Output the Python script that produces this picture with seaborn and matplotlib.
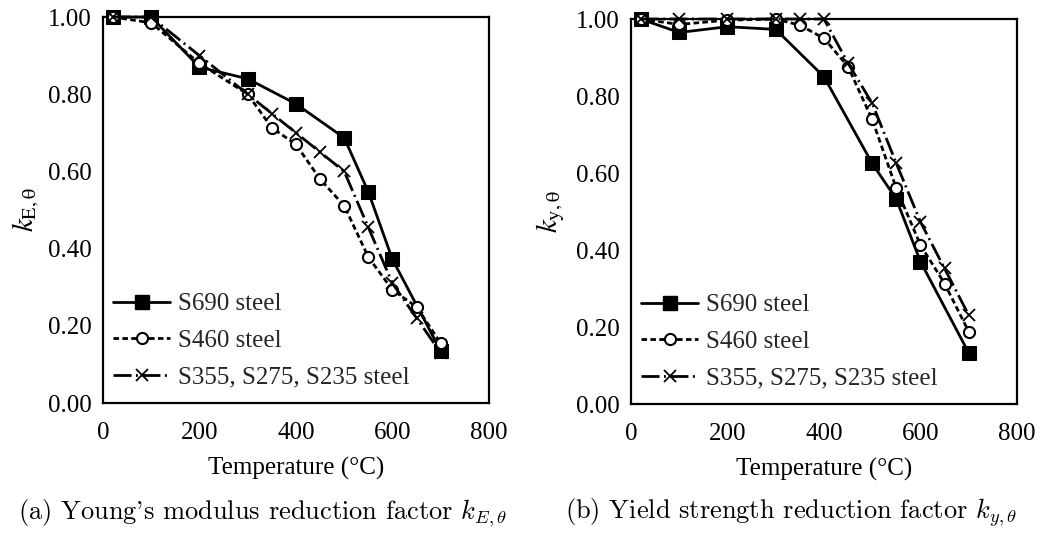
import matplotlib
matplotlib.use("Agg")
import matplotlib.pyplot as plt
import seaborn as sns
import pandas as pd
from matplotlib.lines import Line2D

# ---- data ----
temp_690 = [20, 100, 200, 300, 400, 500, 550, 600, 700]
kE_690 = [1.0, 1.0, 0.87, 0.84, 0.775, 0.687, 0.547, 0.372, 0.135]
ky_690 = [1.0, 0.965, 0.980, 0.973, 0.850, 0.625, 0.532, 0.370, 0.133]

temp_460 = [20, 100, 200, 300, 350, 400, 450, 500, 550, 600, 650, 700]
kE_460 = [1.0, 0.985, 0.880, 0.800, 0.713, 0.670, 0.580, 0.511, 0.378, 0.293, 0.249, 0.155]
ky_460 = [1.0, 0.986, 0.997, 1.0, 0.984, 0.950, 0.876, 0.739, 0.560, 0.413, 0.313, 0.188]

temp_355 = [20, 100, 200, 300, 350, 400, 450, 500, 550, 600, 650, 700]
kE_355 = [1.0, 1.0, 0.90, 0.80, 0.75, 0.70, 0.65, 0.60, 0.455, 0.31, 0.22, 0.13]
ky_355 = [1.0, 1.0, 1.0, 1.0, 1.0, 1.0, 0.885, 0.781, 0.625, 0.473, 0.352, 0.231]

labels = ["S690 steel", "S460 steel", "S355, S275, S235 steel"]
x_ticks = [0, 200, 400, 600, 800]
y_ticks = [0.0, 0.2, 0.4, 0.6, 0.8, 1.0]
captions = ["(a) Young's modulus reduction factor $k_{E,\\theta}$",
            "(b) Yield strength reduction factor $k_{y,\\theta}$"]
ylabels = ["$k_{\\mathrm{E,\\theta}}$", "$k_{\\mathrm{y,\\theta}}$"]
xlabel = "Temperature (\u00b0C)"

sns.set_theme(style="white")
plt.rcParams["font.family"] = ["Liberation Serif", "DejaVu Serif"]
plt.rcParams["mathtext.fontset"] = "stix"

FS = 18
fig = plt.figure(figsize=(10.41, 5.34), dpi=100)
ax1 = fig.add_axes([0.0989, 0.2453, 0.3708, 0.7228])
ax2 = fig.add_axes([0.6061, 0.2434, 0.3708, 0.7210])

LW = 2.0
styles = [
    dict(marker="s", markersize=10, markerfacecolor="black", markeredgecolor="black",
         linestyle="-", linewidth=LW),
    dict(marker="o", markersize=8, markerfacecolor="white", markeredgecolor="black",
         markeredgewidth=1.5, linestyle=(0, (2.0, 1.2)), linewidth=LW),
    dict(marker="x", markersize=8, markeredgecolor="black", markeredgewidth=1.3,
         linestyle=(0, (6.5, 1.6, 0.7, 1.6)), linewidth=LW),
]

panels = [
    (ax1, [(temp_690, kE_690), (temp_460, kE_460), (temp_355, kE_355)], ylabels[0], -0.158),
    (ax2, [(temp_690, ky_690), (temp_460, ky_460), (temp_355, ky_355)], ylabels[1], -0.165),
]

for ax, series, ylab, ylx in panels:
    for (t, v), st, lab in zip(series, styles, labels):
        df = pd.DataFrame({"T": t, "k": v})
        sns.lineplot(data=df, x="T", y="k", ax=ax, color="black", clip_on=False,
                     zorder=3, **st)
    ax.set_xlim(0, 800)
    ax.set_ylim(0, 1.0)
    ax.set_xticks(x_ticks)
    ax.set_yticks(y_ticks)
    ax.set_xticklabels([str(v) for v in x_ticks])
    ax.set_yticklabels([f"{v:.2f}" for v in y_ticks])
    ax.tick_params(axis="x", direction="in", length=5, width=1.5, labelsize=FS, pad=14,
                   colors="black")
    ax.tick_params(axis="y", direction="out", length=5, width=1.5, labelsize=FS, pad=3,
                   colors="black")
    for sp in ax.spines.values():
        sp.set_visible(True)
        sp.set_color("black")
        sp.set_linewidth(1.6)
    ax.set_xlabel(xlabel, fontsize=FS, color="black")
    ax.xaxis.set_label_coords(0.5, -0.14)
    ax.set_ylabel(ylab, fontsize=FS + 3, color="black")
    ax.yaxis.set_label_coords(ylx, 0.5)
    ax.grid(False)
    handles = [Line2D([], [], color="black", **st) for st in styles]
    ax.legend(handles, labels, loc="lower left", frameon=False, fontsize=FS,
              handlelength=2.3, handletextpad=0.3, labelspacing=0.56,
              borderaxespad=0.0, bbox_to_anchor=(0.0, 0.012))

fig.text(0.252, 0.039, captions[0], ha="center", va="center", fontsize=19,
         family="cmr10", math_fontfamily="cm", color="black")
fig.text(0.760, 0.039, captions[1], ha="center", va="center", fontsize=19,
         family="cmr10", math_fontfamily="cm", color="black")

fig.savefig("out.png", dpi=100, facecolor="white")
